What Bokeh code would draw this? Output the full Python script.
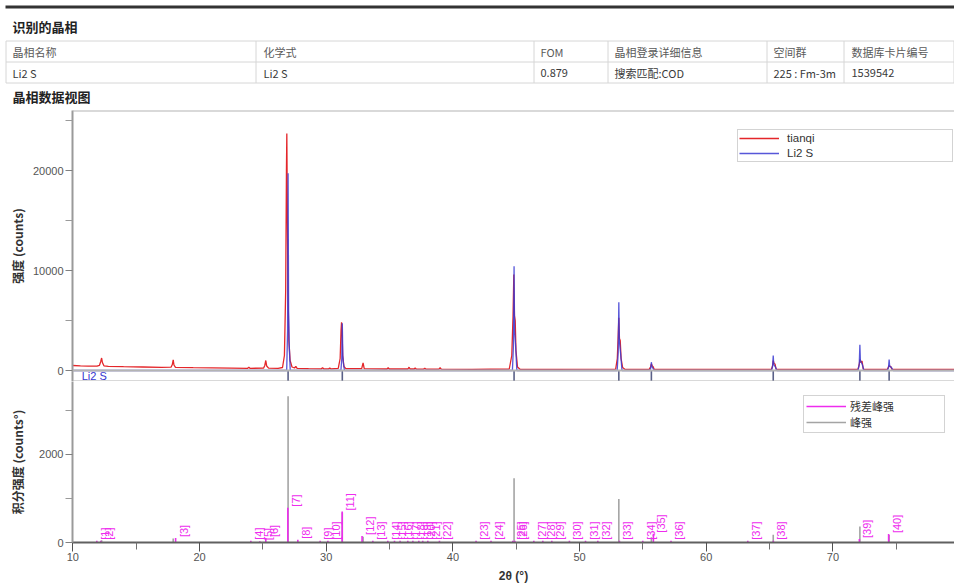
import math
from bokeh.plotting import figure
from bokeh.models import Range1d, FixedTicker, Span, Label, Legend, LegendItem
from bokeh.layouts import column
from bokeh.core.properties import value
from bokeh.embed import file_html
from bokeh.resources import INLINE

# ---------------- data ----------------
section_title = "识别的晶相"
view_title = "晶相数据视图"
table_headers = ["晶相名称", "化学式", "FOM", "晶相登录详细信息", "空间群", "数据库卡片编号"]
table_row = ["Li2 S", "Li2 S", "0.879", "搜索匹配:COD", "225 : Fm-3m", "1539542"]

# measured pattern "tianqi"
tianqi_2theta = [10.00, 10.60, 11.20, 11.90, 12.10, 12.20, 12.27, 12.33, 12.45, 12.80,
                 14.00, 15.50, 17.00, 17.75, 17.85, 17.92, 17.98, 18.10, 19.50, 21.00,
                 22.50, 23.80, 23.89, 23.98, 25.05, 25.15, 25.23, 25.30, 25.45, 26.20,
                 26.55, 26.70, 26.80, 26.86, 26.89, 26.93, 26.98, 27.05, 27.15, 27.30,
                 27.50, 27.60, 27.70, 28.60, 29.62, 29.71, 29.80, 30.20, 30.28, 30.36,
                 30.95, 31.10, 31.17, 31.21, 31.25, 31.30, 31.40, 31.55, 32.80, 32.91,
                 33.00, 34.80, 34.89, 34.98, 36.45, 36.54, 36.62, 36.95, 37.02, 37.10,
                 37.70, 37.78, 37.86, 38.90, 38.99, 39.08, 41.50, 44.45, 44.65, 44.75,
                 44.81, 44.86, 44.92, 44.98, 45.10, 45.30, 48.00, 52.85, 52.98, 53.05,
                 53.10, 53.15, 53.21, 53.28, 53.40, 53.60, 55.50, 55.60, 55.67, 55.74,
                 55.80, 55.90, 60.00, 65.15, 65.24, 65.29, 65.35, 65.43, 65.52, 71.98,
                 72.08, 72.13, 72.20, 72.30, 72.40, 74.30, 74.40, 74.44, 74.50, 74.56,
                 74.66, 79.60]
tianqi_counts = [500, 470, 445, 430, 520, 900, 1250, 800, 470, 420,
                 380, 350, 320, 330, 600, 1070, 550, 320, 280, 255,
                 235, 220, 330, 220, 230, 500, 1000, 450, 230, 220,
                 300, 1500, 8000, 20000, 23700, 16000, 8000, 3000, 1000, 350,
                 250, 420, 220, 180, 170, 280, 170, 170, 260, 170,
                 220, 1200, 4000, 4830, 4000, 1500, 400, 190, 190, 770,
                 190, 150, 270, 150, 150, 330, 150, 150, 250, 150,
                 140, 230, 140, 140, 270, 140, 120, 150, 1500, 5500,
                 9600, 5500, 5000, 2000, 350, 120, 110, 140, 1200, 3500,
                 5270, 3200, 3000, 1200, 300, 110, 110, 350, 670, 450,
                 400, 110, 100, 110, 500, 1000, 700, 650, 110, 110,
                 600, 1100, 800, 950, 110, 110, 400, 500, 380, 420,
                 110, 100]

# calculated pattern "Li2 S"
li2s_2theta = [10.00, 26.88, 26.95, 26.99, 27.03, 27.08, 27.16,
               31.16, 31.23, 31.27, 31.31, 31.36, 31.44,
               44.70, 44.78, 44.83, 44.87, 44.95, 45.05,
               52.97, 53.05, 53.10, 53.14, 53.24, 53.35,
               55.55, 55.62, 55.67, 55.71, 55.80, 55.90,
               65.15, 65.24, 65.29, 65.33, 65.46, 65.58,
               71.98, 72.08, 72.13, 72.17, 72.32, 72.45,
               74.30, 74.39, 74.44, 74.48, 74.64, 74.76, 79.60]
li2s_counts = [0, 0, 4000, 19730, 6000, 2500, 0,
               0, 1200, 4730, 1500, 700, 0,
               0, 2500, 10430, 4000, 2500, 0,
               0, 1800, 6830, 3000, 1700, 0,
               0, 250, 830, 400, 200, 0,
               0, 400, 1500, 600, 350, 0,
               0, 600, 2570, 1000, 600, 0,
               0, 300, 1100, 450, 280, 0, 0]

# Li2 S reflection positions
li2s_reflections = [26.99, 31.27, 44.83, 53.10, 55.67, 65.29, 72.13, 74.44]
phase_label = "Li2 S"

# integrated peak intensity (峰强)
peak_2theta = [12.27, 17.92, 26.99, 31.27, 32.91, 44.83, 53.10, 55.67, 65.29, 72.13, 74.44]
peak_area = [50, 90, 3318, 682, 130, 1455, 986, 120, 175, 364, 170]

# residual peak intensity (残差峰强)
resid_labels = ["[%d]" % i for i in range(1, 41)]
resid_2theta = [11.89, 12.21, 18.11, 24.05, 24.76, 25.23, 26.97, 27.76, 29.52, 30.13,
                31.26, 32.83, 33.68, 34.86, 35.39, 35.83, 36.44, 36.84, 37.31, 37.62,
                38.02, 38.94, 41.83, 43.01, 44.73, 44.89, 46.39, 47.10, 47.81, 49.20,
                50.47, 51.44, 53.15, 54.99, 55.83, 57.22, 63.28, 65.30, 72.09, 74.40]
resid_area = [40, 40, 100, 40, 30, 100, 790, 60, 40, 40,
              700, 150, 40, 40, 40, 40, 40, 40, 40, 40,
              40, 40, 40, 40, 40, 40, 40, 40, 40, 40,
              40, 40, 40, 40, 200, 40, 40, 40, 80, 190]

x_major = [10, 20, 30, 40, 50, 60, 70, 80]
x_minor = [15, 25, 35, 45, 55, 65, 75]
top_major = [0, 10000, 20000]
top_minor = [5000, 15000, 25000]
bot_major = [0, 2000]
bot_minor = [1000, 3000]

# ---------------- layout / style ----------------
W = 954
HDR_H = 110
TOP_H = 271
BOT_H = 204
LEFT = 72
XR = Range1d(9.97, 79.6)
TOP_Y = (-1100, 26000)
BOT_Y = (0, 3650)

CJK = "Noto Sans CJK SC"
LAT = "Liberation Sans"
RED = "#e4262a"
BLUE = "#3a3ad2"
GRAY_BAR = "#a4a4a4"
MAGENTA = "#ee2cee"
FRAME_GRAY = "#b4b4b4"

# ---------------- header ----------------
hp = figure(width=W, height=HDR_H, x_range=Range1d(0, W), y_range=Range1d(HDR_H, 0),
            x_axis_location=None, y_axis_location=None, toolbar_location=None,
            output_backend="svg", min_border=0, outline_line_color=None)
try:
    hp.frame_align = False
except Exception:
    pass
hp.xgrid.visible = False
hp.ygrid.visible = False

hp.segment(x0=[5], y0=[6.5], x1=[W], y1=[6.5], line_color="#333333", line_width=3)
hp.text(x=[12], y=[26], text=[section_title], text_font=value(CJK), text_font_size="13px",
        text_font_style="bold", text_color="#222222", text_baseline="middle")
hp.text(x=[12], y=[96], text=[view_title], text_font=value(CJK), text_font_size="13px",
        text_font_style="bold", text_color="#222222", text_baseline="middle")

col_edges = [5.5, 255.5, 533.5, 607.5, 766.5, 843.5, 953.5]
col_text_x = [12, 263, 540, 614, 773, 851]
row_lines = [40.5, 61.5, 82.5]
hp.segment(x0=[col_edges[0]] * 3, y0=row_lines, x1=[col_edges[-1]] * 3, y1=row_lines,
           line_color="#d6d6d6", line_width=1)
hp.segment(x0=col_edges, y0=[row_lines[0]] * len(col_edges), x1=col_edges,
           y1=[row_lines[-1]] * len(col_edges), line_color="#d6d6d6", line_width=1)
hp.text(x=col_text_x, y=[51] * 6, text=table_headers, text_font=value(CJK),
        text_font_size="11px", text_color="#5a5a5a", text_baseline="middle")
hp.text(x=col_text_x, y=[72] * 6, text=table_row, text_font=value(CJK),
        text_font_size="11px", text_color="#3a3a3a", text_baseline="middle")


def style_yaxis(p, ticks, minor, label, standoff):
    ax = p.yaxis[0]
    ax.ticker = FixedTicker(ticks=ticks, minor_ticks=minor)
    ax.axis_line_color = "#9a9a9a"
    ax.axis_line_width = 2
    ax.major_tick_line_color = "#808080"
    ax.minor_tick_line_color = "#9a9a9a"
    ax.major_tick_in = 0
    ax.major_tick_out = 7
    ax.minor_tick_in = 0
    ax.minor_tick_out = 7
    ax.major_label_standoff = 2
    ax.major_label_text_font = LAT
    ax.major_label_text_font_size = "11px"
    ax.major_label_text_color = "#555555"
    ax.axis_label = label
    ax.axis_label_text_font = CJK
    ax.axis_label_text_font_size = "12px"
    ax.axis_label_text_font_style = "bold"
    ax.axis_label_text_color = "#333333"
    ax.axis_label_standoff = standoff


# ---------------- top plot ----------------
p1 = figure(width=W, height=TOP_H, x_range=XR, y_range=Range1d(*TOP_Y),
            x_axis_location=None, toolbar_location=None, output_backend="svg",
            min_border=0, min_border_left=LEFT, outline_line_color=None)
p1.xgrid.visible = False
p1.ygrid.visible = False
style_yaxis(p1, top_major, top_minor, "强度 (counts)", 4)

p1.segment(x0=li2s_reflections, y0=[TOP_Y[0]] * len(li2s_reflections),
           x1=li2s_reflections, y1=[0] * len(li2s_reflections),
           line_color="#5a6088", line_width=1.6)
r_red = p1.line(tianqi_2theta, tianqi_counts, line_color=RED, line_width=1.3)
r_blue = p1.line(li2s_2theta, li2s_counts, line_color=BLUE, line_width=1.3, line_alpha=0.85)

p1.add_layout(Span(location=0, dimension="width", line_color=FRAME_GRAY, line_width=2))
p1.add_layout(Span(location=TOP_Y[0], dimension="width", line_color=FRAME_GRAY, line_width=2))
p1.add_layout(Span(location=TOP_Y[1], dimension="width", line_color=FRAME_GRAY, line_width=2))
p1.add_layout(Label(x=10.7, y=-550, text=phase_label, text_font=LAT, text_font_size="11px",
                    text_color="#3434d0", text_baseline="middle"))

leg1 = Legend(items=[LegendItem(label="tianqi", renderers=[r_red]),
                     LegendItem(label="Li2 S", renderers=[r_blue])],
              location=(665, 219), orientation="vertical",
              border_line_color="#a8a8a8", border_line_width=1,
              background_fill_color="white", background_fill_alpha=1.0,
              glyph_width=40, glyph_height=14, label_height=14, label_width=164,
              label_standoff=8, padding=1, spacing=1, margin=0,
              label_text_font=LAT, label_text_font_size="11.5px",
              label_text_color="#333333")
p1.add_layout(leg1)

# ---------------- bottom plot ----------------
p2 = figure(width=W, height=BOT_H, x_range=XR, y_range=Range1d(*BOT_Y),
            toolbar_location=None, output_backend="svg",
            min_border=0, min_border_left=LEFT, outline_line_color=None)
p2.xgrid.visible = False
p2.ygrid.visible = False
style_yaxis(p2, bot_major, bot_minor, "积分强度 (counts°)", 10)

xa = p2.xaxis[0]
xa.ticker = FixedTicker(ticks=x_major, minor_ticks=x_minor)
xa.axis_line_color = "#606060"
xa.axis_line_width = 2
xa.major_tick_line_color = "#505050"
xa.minor_tick_line_color = "#707070"
xa.major_tick_in = 0
xa.major_tick_out = 9
xa.minor_tick_in = 0
xa.minor_tick_out = 7
xa.major_label_standoff = 1
xa.major_label_text_font = LAT
xa.major_label_text_font_size = "11px"
xa.major_label_text_color = "#555555"
xa.axis_label = "2θ (°)"
xa.axis_label_text_font = LAT
xa.axis_label_text_font_size = "12px"
xa.axis_label_text_font_style = "bold"
xa.axis_label_text_color = "#333333"
xa.axis_label_standoff = 5

r_gray = p2.segment(x0=peak_2theta, y0=[0] * len(peak_2theta), x1=peak_2theta, y1=peak_area,
                    line_color=GRAY_BAR, line_width=1.6)
r_mag = p2.segment(x0=resid_2theta, y0=[0] * len(resid_2theta), x1=resid_2theta, y1=resid_area,
                   line_color=MAGENTA, line_width=1.6)
p2.text(x=resid_2theta, y=resid_area, text=resid_labels, angle=math.pi / 2,
        x_offset=8, y_offset=-1, text_align="left", text_baseline="middle",
        text_font=value(LAT), text_font_size="11px", text_color=MAGENTA)

leg2 = Legend(items=[LegendItem(label="残差峰强", renderers=[r_mag]),
                     LegendItem(label="峰强", renderers=[r_gray])],
              location=(731, 109), orientation="vertical",
              border_line_color="#a8a8a8", border_line_width=1,
              background_fill_color="white", background_fill_alpha=1.0,
              glyph_width=40, glyph_height=14, label_height=14, label_width=92,
              label_standoff=4, padding=2, spacing=0, margin=0,
              label_text_font=CJK, label_text_font_size="11px",
              label_text_color="#333333")
p2.add_layout(leg2)

layout = column(hp, p1, p2, spacing=0)
open("out.html", "w").write(file_html(layout, INLINE))
